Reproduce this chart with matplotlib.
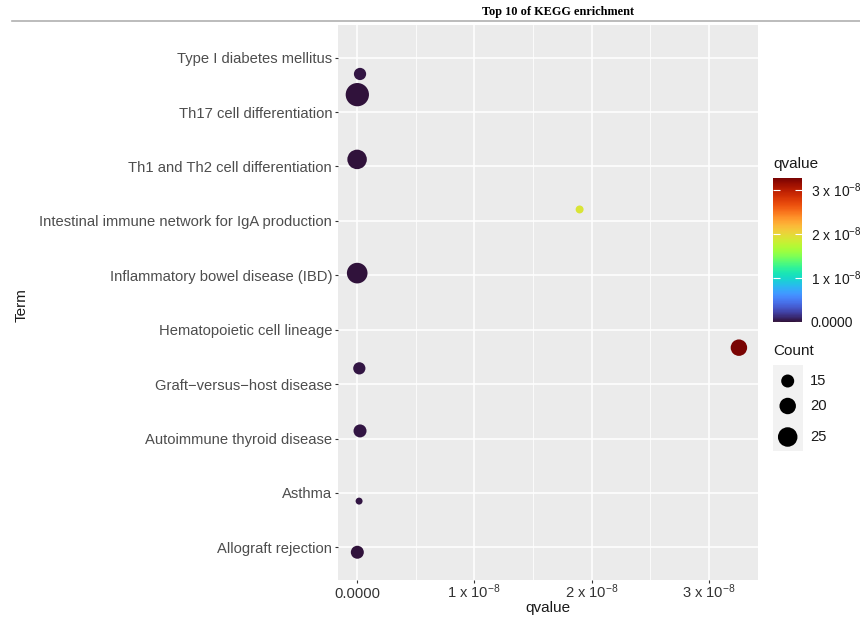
import numpy as np
import matplotlib
matplotlib.use("Agg")
import matplotlib.pyplot as plt
from matplotlib.colors import Normalize
from matplotlib.lines import Line2D

plt.rcParams['font.family'] = ['Liberation Sans', 'DejaVu Sans']
plt.rcParams['mathtext.fontset'] = 'custom'
plt.rcParams['mathtext.rm'] = 'Liberation Sans'
plt.rcParams['mathtext.it'] = 'Liberation Sans:italic'
plt.rcParams['mathtext.bf'] = 'Liberation Sans:bold'

# ---------------- data ----------------
terms = ["Allograft rejection", "Asthma", "Autoimmune thyroid disease",
         "Graft\u2212versus\u2212host disease", "Hematopoietic cell lineage",
         "Inflammatory bowel disease (IBD)",
         "Intestinal immune network for IgA production",
         "Th1 and Th2 cell differentiation", "Th17 cell differentiation",
         "Type I diabetes mellitus"]
# point positions on the category axis (as drawn in the reference)
point_pos = [9.70, 9.32, 8.13, 7.21, 6.04, 4.67, 4.29, 3.14, 1.85, 0.91]
qvalue = [0.026e-8, 0.003e-8, 0.001e-8, 1.898e-8, 0.002e-8,
          3.256e-8, 0.020e-8, 0.026e-8, 0.018e-8, 0.003e-8]
count = [14, 32, 25, 9, 27, 20, 14, 15, 8, 15]
x_ticks = [0, 1e-8, 2e-8, 3e-8]
x_minor = [0.5e-8, 1.5e-8, 2.5e-8]
x_ticklabels = ["0.0000", r"1 x 10$^{-8}$", r"2 x 10$^{-8}$", r"3 x 10$^{-8}$"]
legend_counts = [15, 20, 25]

W, H = 860, 618
def fx(px): return px / W
def fy(py): return 1 - py / H

def msize(c):
    d_px = -9.35 + 5.77 * np.sqrt(np.asarray(c, dtype=float))
    d_pt = d_px * 72 / 100
    return d_pt ** 2

fig = plt.figure(figsize=(8.6, 6.18), dpi=100)
fig.patch.set_facecolor('white')

ax = fig.add_axes([fx(338), fy(580), (758 - 338) / W, (580 - 25) / H])
ax.set_facecolor('#ebebeb')
for s in ax.spines.values():
    s.set_visible(False)

cmap = plt.get_cmap('turbo')
norm = Normalize(vmin=min(qvalue), vmax=max(qvalue))
sc = ax.scatter(qvalue, point_pos, s=msize(count), c=qvalue, cmap=cmap,
                norm=norm, linewidths=0, zorder=3)

ax.set_yticks(range(1, len(terms) + 1))
ax.set_yticklabels(terms)
ax.set_xticks(x_ticks)
ax.set_xticklabels(x_ticklabels, va='baseline')
ax.set_xticks(x_minor, minor=True)

xmin, xmax = min(qvalue), max(qvalue)
pad = (xmax - xmin) * 0.05
ax.set_xlim(xmin - pad, xmax + pad)
ax.set_ylim(0.4, len(terms) + 0.6)

ax.tick_params(axis='y', labelsize=10.6, labelcolor='#4d4d4d', color='#333333',
               length=2.2, width=0.8, pad=2)
ax.tick_params(axis='x', labelsize=10.6, labelcolor='#333333', color='#333333',
               length=2.2, width=0.8, pad=10.8)
ax.tick_params(axis='x', which='minor', length=0)
ax.grid(True, which='major', color='white', linewidth=1.1, zorder=0)
ax.grid(True, which='minor', axis='x', color='white', linewidth=0.55, zorder=0)
ax.set_axisbelow(True)

fig.text(fx(548), fy(608), "qvalue", fontsize=11, color='#1a1a1a',
         ha='center', va='center')
fig.text(fx(22), fy(305), "Term", rotation=90, fontsize=11, color='#1a1a1a',
         ha='center', va='center')

# title and header rule
fig.text(fx(558), fy(12), "Top 10 of KEGG enrichment", fontsize=8.8,
         family='Liberation Serif', fontweight='bold', ha='center', va='center')
fig.add_artist(Line2D([fx(12), 1.0], [fy(21), fy(21)], color='#b0b0b0',
                      linewidth=1.2, transform=fig.transFigure))

# colorbar
cax = fig.add_axes([fx(773), fy(321.7), 29.4 / W, 143.4 / H])
cb = fig.colorbar(sc, cax=cax)
cb.outline.set_visible(False)
cb.set_ticks(x_ticks)
cb.set_ticklabels(x_ticklabels)
cax.yaxis.set_ticks_position('both')
cax.tick_params(axis='y', direction='in', color='white', length=5, width=0.8,
                labelsize=10, labelcolor='#1a1a1a', pad=6, labelleft=False,
                labelright=True)
fig.text(fx(773), fy(164), "qvalue", fontsize=11, color='#1a1a1a',
         ha='left', va='center')

# size legend
fig.text(fx(773), fy(351), "Count", fontsize=11, color='#1a1a1a',
         ha='left', va='center')
lax = fig.add_axes([fx(773), fy(451), 30 / W, 86 / H])
lax.set_facecolor('#f2f2f2')
for s in lax.spines.values():
    s.set_visible(False)
lax.set_xticks([]); lax.set_yticks([])
lax.set_xlim(0, 30)
lax.set_ylim(86, 0)
key_y = [16, 41, 72]
lax.scatter([14.7] * len(legend_counts), key_y, s=msize(legend_counts),
            color='black', linewidths=0)
for yy, c in zip(key_y, legend_counts):
    fig.text(fx(810), fy(365 + yy), str(c), fontsize=10.6, color='#1a1a1a',
             ha='left', va='center')

fig.savefig("out.png", dpi=100)
